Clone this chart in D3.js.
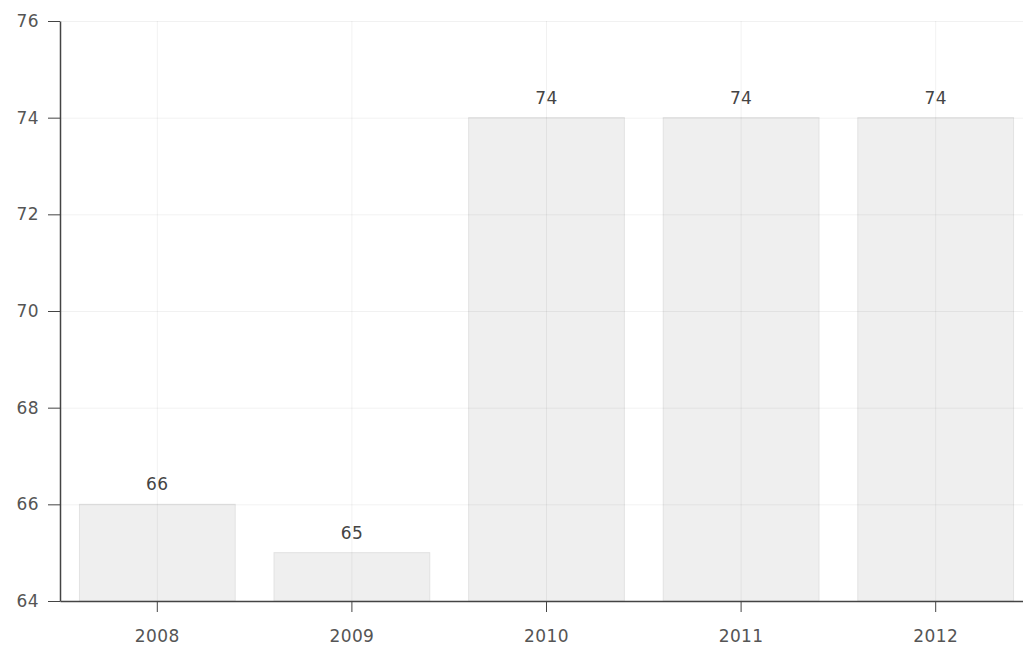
<!DOCTYPE html>
<html>
<head>
<meta charset="utf-8">
<script src="https://cdn.jsdelivr.net/npm/d3@7"></script>
<style>
  body { margin: 0; background: #fff; }
  .chart text { font-family: "DejaVu Sans", Verdana, sans-serif; font-size: 17px; fill: #555; letter-spacing: 0.4px; }
  .grid line { stroke: rgba(0,0,0,0.055); stroke-width: 1; }
  .grid .domain { display: none; }
  .axis path, .axis line { stroke: #444; }
  .axis path { stroke-width: 1.5; }
  .bar { fill: #efefef; stroke: #e2e2e2; stroke-width: 1; }
</style>
</head>
<body>
<div class="chart"></div>
<script>
var years = ["2008", "2009", "2010", "2011", "2012"];
var values = [66, 65, 74, 74, 74];
var yTicks = [64, 66, 68, 70, 72, 74, 76];

var width = 1023;
var height = 652;

var svg = d3.select(".chart").append("svg")
    .attr("width", width)
    .attr("height", height);

var x = d3.scaleBand()
    .domain(years)
    .range([60, 1033])
    .paddingInner(0.2)
    .paddingOuter(0.1);

var y = d3.scaleLinear()
    .domain([64, 76])
    .range([601, 21]);

// bars
svg.selectAll(".bar")
    .data(values)
    .enter().append("rect")
      .attr("class", "bar")
      .attr("x", function(d, i) { return x(years[i]); })
      .attr("y", function(d) { return y(d); })
      .attr("width", x.bandwidth())
      .attr("height", function(d) { return y(64) - y(d); });

// grid, drawn over the bars so it shows through them
svg.append("g")
    .attr("class", "grid")
    .attr("transform", "translate(60,0)")
    .call(d3.axisLeft(y).tickValues(yTicks).tickSize(-(width - 60)).tickFormat(""));

svg.append("g")
    .attr("class", "grid")
    .attr("transform", "translate(0,601)")
    .call(d3.axisBottom(x).tickSize(-580).tickFormat(""));

svg.selectAll(".value")
    .data(values)
    .enter().append("text")
      .attr("class", "value")
      .attr("x", function(d, i) { return x(years[i]) + x.bandwidth() / 2; })
      .attr("y", function(d) { return y(d) - 14; })
      .attr("text-anchor", "middle")
      .style("fill", "#444")
      .text(function(d) { return d; });

// axes
svg.append("g")
    .attr("class", "axis")
    .attr("transform", "translate(60,0)")
    .call(d3.axisLeft(y).tickValues(yTicks).tickSize(12).tickSizeOuter(0).tickPadding(9));

svg.append("g")
    .attr("class", "axis")
    .attr("transform", "translate(0,601)")
    .call(d3.axisBottom(x).tickSize(11).tickSizeOuter(0).tickPadding(18));

svg.selectAll(".axis text").style("font-size", "17px").style("font-family", "DejaVu Sans, Verdana, sans-serif");
</script>
</body>
</html>
